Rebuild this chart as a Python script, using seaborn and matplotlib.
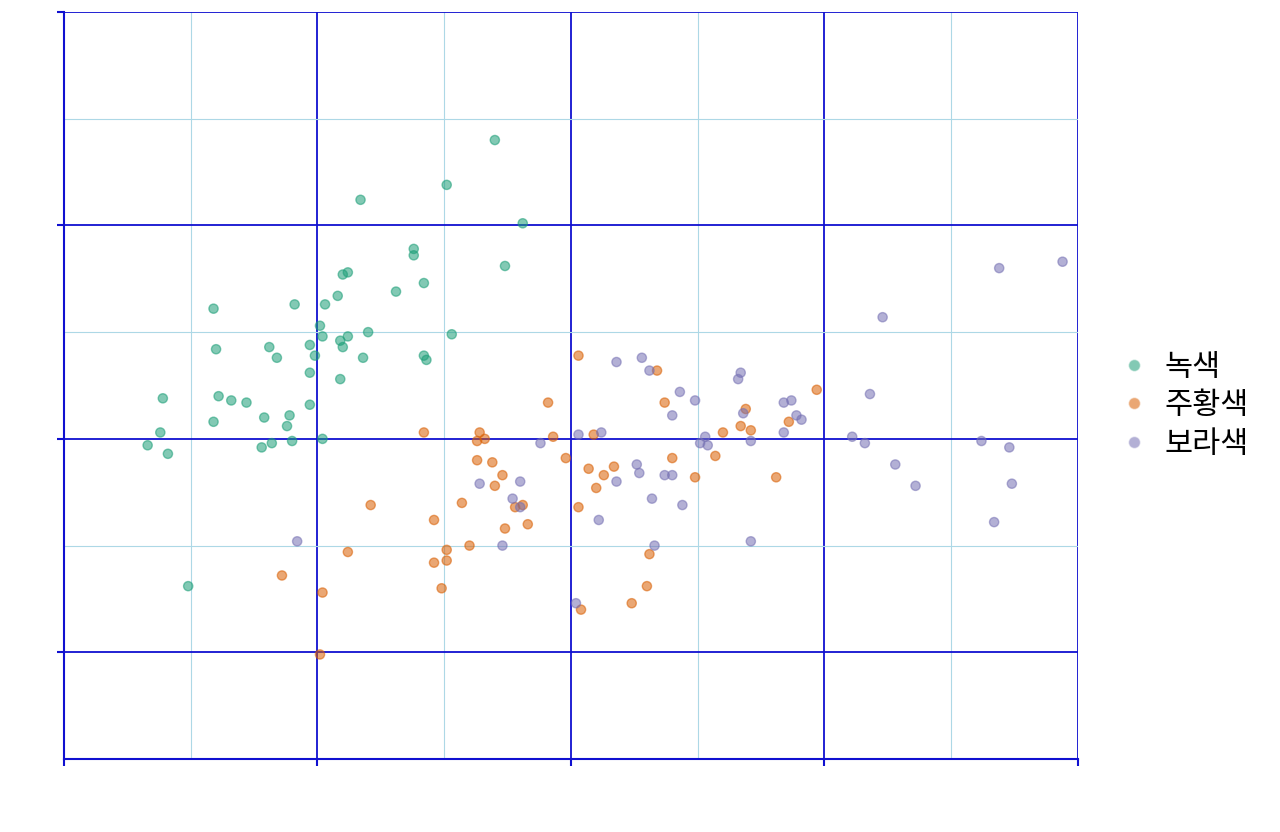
import numpy as np
import pandas as pd
import seaborn as sns
import matplotlib.pyplot as plt
from matplotlib.ticker import MultipleLocator

# values
green_x = [-0.30, -0.49, -0.83, -0.19, -0.62, -0.62, -0.26, -0.88, -0.90, -0.58,
           -0.69, -0.92, -0.97, -1.09, -1.41, -0.99, -0.98, -0.91, -0.88, -0.80,
           -0.47, -0.90, -1.03, -1.19, -1.40, -1.16, -1.01, -0.82, -0.58, -0.57,
           -1.03, -0.91, -1.61, -1.39, -1.34, -1.28, -1.03, -1.21, -1.11, -1.41,
           -1.12, -1.62, -1.67, -1.59, -1.22, -1.18, -1.10, -0.98, -1.51]
green_y = [1.40, 1.19, 1.12, 1.01, 0.89, 0.86, 0.81, 0.78, 0.77, 0.73,
           0.69, 0.67, 0.63, 0.63, 0.61, 0.53, 0.48, 0.46, 0.48, 0.50,
           0.49, 0.43, 0.44, 0.43, 0.42, 0.38, 0.39, 0.38, 0.39, 0.37,
           0.31, 0.28, 0.19, 0.20, 0.18, 0.17, 0.16, 0.10, 0.11, 0.08,
           0.06, 0.03, -0.03, -0.07, -0.04, -0.02, -0.01, 0.00, -0.69]

orange_x = [0.03, 0.34, -0.09, 0.37, 0.69, 0.97, -0.58, -0.36, -0.34, -0.37,
            -0.07, 0.09, 0.60, 0.67, 0.71, 0.86, -0.02, -0.37, -0.31, -0.27,
            -0.30, -0.19, -0.22, -0.43, -0.54, -0.26, -0.17, -0.40, -0.49, -0.54,
            -0.49, -0.51, 0.07, 0.17, 0.13, 0.10, 0.03, 0.40, 0.57, 0.49,
            0.81, 0.31, 0.30, 0.24, 0.04, -0.79, -0.88, -1.14, -0.98, -0.99]
orange_y = [0.39, 0.32, 0.17, 0.17, 0.14, 0.23, 0.03, 0.03, 0.00, -0.01,
            0.01, 0.02, 0.03, 0.06, 0.04, 0.08, -0.09, -0.10, -0.11, -0.17,
            -0.22, -0.31, -0.32, -0.30, -0.38, -0.42, -0.40, -0.50, -0.52, -0.58,
            -0.57, -0.70, -0.14, -0.13, -0.17, -0.23, -0.32, -0.09, -0.08, -0.18,
            -0.18, -0.54, -0.69, -0.77, -0.80, -0.31, -0.53, -0.64, -0.72, -1.01]

purple_x = [0.18, 0.28, 0.31, 0.43, 0.49, 0.40, 0.67, 0.66, 0.68, 0.84,
            0.87, 0.89, 0.91, 0.84, 0.71, 0.03, 0.12, 0.53, 0.51, 0.54,
            0.26, 0.27, 0.37, 0.40, 0.18, 0.32, 0.44, 0.11, 0.33, 0.71,
            -0.12, -0.36, -0.20, -0.23, -0.20, -0.27, 0.02, -1.08, 1.69, 1.94,
            1.23, 1.18, 1.11, 1.16, 1.28, 1.36, 1.62, 1.73, 1.74, 1.67]
purple_y = [0.36, 0.38, 0.32, 0.22, 0.18, 0.11, 0.31, 0.28, 0.12, 0.17,
            0.18, 0.11, 0.09, 0.03, -0.01, 0.02, 0.03, 0.01, -0.02, -0.03,
            -0.12, -0.16, -0.17, -0.17, -0.20, -0.28, -0.31, -0.38, -0.50, -0.48,
            -0.02, -0.21, -0.20, -0.28, -0.32, -0.50, -0.77, -0.48, 0.80, 0.83,
            0.57, 0.21, 0.01, -0.02, -0.12, -0.22, -0.01, -0.04, -0.21, -0.39]

groups = ['녹색', '주황색', '보라색']

df = pd.concat([
    pd.DataFrame({'x': green_x, 'y': green_y, 'group': groups[0]}),
    pd.DataFrame({'x': orange_x, 'y': orange_y, 'group': groups[1]}),
    pd.DataFrame({'x': purple_x, 'y': purple_y, 'group': groups[2]}),
])

sns.set_style('white')
plt.rcParams['font.family'] = ['Noto Sans CJK KR', 'DejaVu Sans']
plt.rcParams['text.color'] = 'black'

blue = '#1010d0'

fig = plt.figure(figsize=(12.8, 8.32), dpi=100)
ax = fig.add_axes([0.05, 0.0877, 0.792, 0.8979])

sns.scatterplot(data=df, x='x', y='y', hue='group', hue_order=groups,
                palette='Dark2', s=44, alpha=0.55, linewidth=1, ax=ax)
for c in ax.collections:
    c.set_edgecolor(c.get_facecolor())

ax.set_xlim(-2, 2)
ax.set_ylim(-1.5, 2)
ax.xaxis.set_major_locator(MultipleLocator(1))
ax.yaxis.set_major_locator(MultipleLocator(1))
ax.xaxis.set_minor_locator(MultipleLocator(0.5))
ax.yaxis.set_minor_locator(MultipleLocator(0.5))
ax.grid(which='major', color=blue, linewidth=1.3)
ax.grid(which='minor', color='#add8e6', linewidth=0.8)
ax.set_axisbelow(True)
ax.tick_params(which='major', length=5, width=1.5, color=blue,
               labelbottom=False, labelleft=False, bottom=True, left=True)
ax.tick_params(which='minor', length=0)
ax.set_xlabel('')
ax.set_ylabel('')
for side in ['top', 'right']:
    ax.spines[side].set_visible(False)
for side in ['left', 'bottom']:
    ax.spines[side].set_color(blue)
    ax.spines[side].set_linewidth(1.5)

leg = ax.legend(title=None, frameon=False, loc='center left',
                bbox_to_anchor=(1.013, 0.473), fontsize=22, markerscale=1.3,
                handlelength=1, handletextpad=0.5, labelspacing=0.25)
for t in leg.get_texts():
    t.set_color('black')

fig.savefig('out.png', dpi=100)
